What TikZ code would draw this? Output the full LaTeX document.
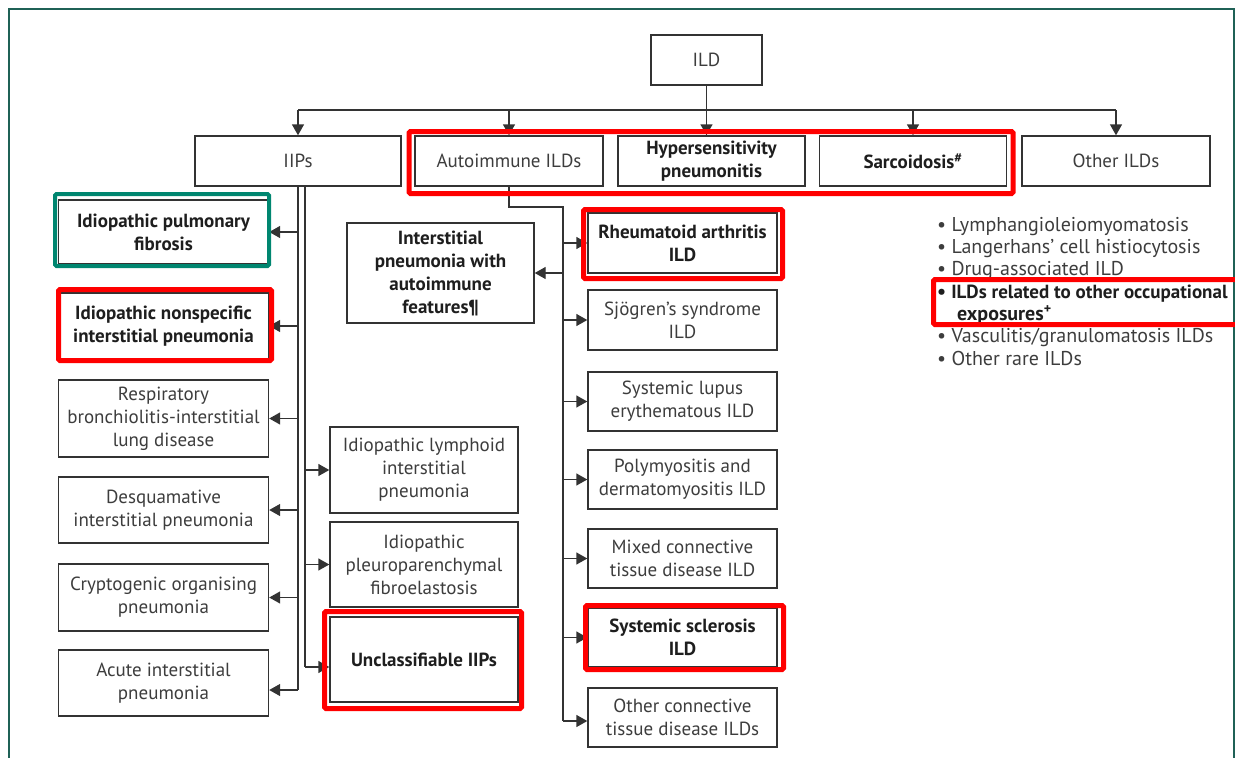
\documentclass[tikz,border=0pt]{standalone}
\usepackage{fontspec}
\setmainfont{PT Sans}
\usetikzlibrary{arrows.meta}
\definecolor{txt}{HTML}{3D3D3D}
\definecolor{txtb}{HTML}{1E1E1E}
\definecolor{boxc}{HTML}{333333}
\definecolor{hred}{HTML}{FF0000}
\definecolor{hteal}{HTML}{008670}
\definecolor{framec}{HTML}{1F6156}
\tikzset{
  bx/.style={draw=boxc, line width=1.4pt, fill=white, text=txt, align=center, inner sep=0pt,
    font=\fontsize{19}{23}\selectfont},
  bb/.style={bx, text=txtb, font=\bfseries\fontsize{19}{23}\selectfont},
  ln/.style={draw=boxc, line width=1.4pt},
  arr/.style={ln, -{Triangle[length=11pt,width=12pt]}},
  hl/.style={draw=hred, line width=5pt, rounded corners=1.5pt},
  hlt/.style={draw=hteal, line width=4pt, rounded corners=1.5pt},
  framel/.style={draw=framec, line width=2pt},
}
\begin{document}
\begin{tikzpicture}[x=1pt,y=-1pt]
\useasboundingbox (0,0) rectangle (1235,758);
\draw[framel] (8.5,760) -- (8.5,9) -- (1233.5,9) -- (1233.5,760);

% top
\node[bx, minimum width=111pt, minimum height=50pt] (ild) at (706.5,60) {ILD};
\node[bx, minimum width=206pt, minimum height=50pt] (iips) at (298,161) {IIPs};
\node[bx, minimum width=188pt, minimum height=50pt] (auto) at (509,161) {Autoimmune ILDs};
\node[bb, minimum width=187pt, minimum height=50pt] (hp) at (711.5,161) {Hypersensitivity\\pneumonitis};
\node[bb, minimum width=187pt, minimum height=50pt] (sarc) at (913,161) {Sarcoidosis\textsuperscript{\#}};
\node[bx, minimum width=188pt, minimum height=50pt] (other) at (1116,161) {Other ILDs};

% IIPs left column
\node[bb, minimum width=210pt, minimum height=64pt] (ipf) at (163.5,232) {Idiopathic pulmonary\\fibrosis};
\node[bb, minimum width=210pt, minimum height=66pt] (insip) at (163.5,326) {Idiopathic nonspecific\\interstitial pneumonia};
\node[bx, minimum width=210pt, minimum height=77pt] (rbild) at (163.5,418.5) {Respiratory\\bronchiolitis-interstitial\\lung disease};
\node[bx, minimum width=210pt, minimum height=66pt] (dip) at (163.5,510) {Desquamative\\interstitial pneumonia};
\node[bx, minimum width=210pt, minimum height=67pt] (cop) at (163.5,597.5) {Cryptogenic organising\\pneumonia};
\node[bx, minimum width=210pt, minimum height=66pt] (aip) at (163.5,683) {Acute interstitial\\pneumonia};

% IIPs right column
\node[bx, minimum width=188pt, minimum height=86pt] (ilip) at (424,470) {Idiopathic lymphoid\\interstitial\\pneumonia};
\node[bx, minimum width=188pt, minimum height=85pt] (ippfe) at (424,564.5) {Idiopathic\\pleuroparenchymal\\fibroelastosis};
\node[bb, minimum width=188pt, minimum height=85pt] (uncl) at (424,659.5) {Unclassifiable IIPs};

% Autoimmune column
\node[bb, minimum width=187pt, minimum height=100pt] (ipaf) at (440.5,273) {Interstitial\\pneumonia with\\autoimmune\\features¶};
\node[bb, minimum width=189pt, minimum height=60pt] (ra) at (682.5,243) {Rheumatoid arthritis\\ILD};
\node[bx, minimum width=189pt, minimum height=60pt] (sjo) at (682.5,320) {Sjögren's syndrome\\ILD};
\node[bx, minimum width=189pt, minimum height=59pt] (sle) at (682.5,401.5) {Systemic lupus\\erythematous ILD};
\node[bx, minimum width=189pt, minimum height=59pt] (pm) at (682.5,479.5) {Polymyositis and\\dermatomyositis ILD};
\node[bx, minimum width=189pt, minimum height=59pt] (mctd) at (682.5,558.5) {Mixed connective\\tissue disease ILD};
\node[bb, minimum width=189pt, minimum height=59pt] (ssc) at (682.5,637.5) {Systemic sclerosis\\ILD};
\node[bx, minimum width=189pt, minimum height=59pt] (octd) at (682.5,717.5) {Other connective\\tissue disease ILDs};

% Other ILDs list
\node[anchor=north west, align=left, text=txt, inner sep=0pt, font=\fontsize{20}{22.3}\selectfont] (list) at (937,217)
{\textbullet\ Lymphangioleiomyomatosis\\
 \textbullet\ Langerhans' cell histiocytosis\\
 \textbullet\ Drug-associated ILD\\
 {\color{txtb}\bfseries\textbullet\ {\fontsize{19}{22.3}\selectfont ILDs related to other occupational}}\\
 {\color{txtb}\bfseries\hspace*{20pt}exposures\textsuperscript{+}}\\
 \textbullet\ Vasculitis/granulomatosis ILDs\\
 \textbullet\ Other rare ILDs};

% connectors top
\coordinate (bus) at (0,110);
\draw[ln] (ild.south) -- (ild.south |- bus);
\draw[ln] (iips.north |- bus) -- (other.north |- bus);
\foreach \n in {iips,auto,sarc,other} \draw[arr] (\n.north |- bus) -- (\n.north);
\draw[arr] (ild.south |- bus) -- (ild.south |- hp.north);

% IIPs trunks
\coordinate (aipin) at ([yshift=-7pt]aip.east);
\draw[ln] (iips.south) -- (iips.south |- aipin);
\foreach \n in {ipf,insip,rbild,dip,cop} \draw[arr] (iips.south |- \n.east) -- (\n.east);
\draw[arr] (iips.south |- aipin) -- (aipin);
\coordinate (tr) at ([xshift=7pt]iips.south);
\coordinate (unin) at ([yshift=-7.5pt]uncl.west);
\draw[ln] (tr) -- (tr |- unin);
\foreach \n in {ilip,ippfe} \draw[arr] (tr |- \n.west) -- (\n.west);
\draw[arr] (tr |- unin) -- (unin);

% Autoimmune trunk
\coordinate (aj) at (563,207);
\coordinate (octin) at ([yshift=-3.5pt]octd.west);
\draw[ln] (auto.south) |- (aj) -- (aj |- octin);
\foreach \n in {ra,sjo,sle,pm,mctd,ssc} \draw[arr] (aj |- \n.west) -- (\n.west);
\draw[arr] (aj |- octin) -- (octin);
\draw[arr] (aj |- ipaf.east) -- (ipaf.east);

% highlights
\draw[hl] (409,131.5) rectangle (1013,193.5);
\draw[hl] (583.5,209.5) rectangle (782.5,278.5);
\draw[hl] (585.5,605.5) rectangle (783.5,669.5);
\draw[hl] (324.5,611.5) rectangle (521.5,708.5);
\draw[hl] (58.5,289.5) rectangle (271.5,360.5);
\draw[hl] (933.5,279.5) rectangle (1245,324.5);
\draw[hlt] (55,194) rectangle (269,266);
\end{tikzpicture}
\end{document}
